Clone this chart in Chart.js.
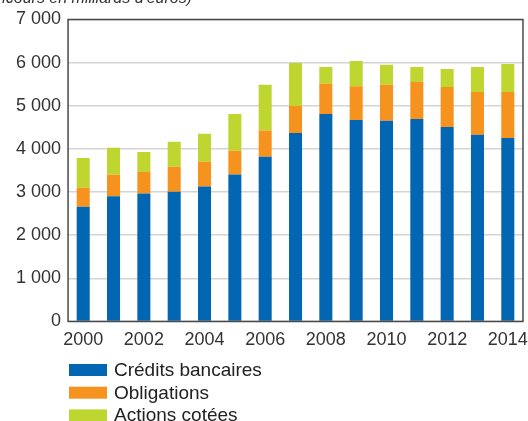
<!DOCTYPE html>
<html>
<head>
<meta charset="utf-8">
<script src="https://cdn.jsdelivr.net/npm/chart.js@4"></script>
<style>
  html, body { margin: 0; padding: 0; background: #fff; }
  #wrap { position: relative; width: 528px; height: 421px; }
</style>
</head>
<body>
<div id="wrap"><canvas id="chart"></canvas></div>
<script>
const years = ['2000', '2001', '2002', '2003', '2004', '2005', '2006', '2007',
  '2008', '2009', '2010', '2011', '2012', '2013', '2014'];
const credits = [2660, 2900, 2965, 3005, 3125, 3405, 3815, 4370, 4810, 4670, 4650, 4695, 4510, 4325, 4255];
const obligations = [440, 500, 500, 580, 575, 550, 610, 625, 705, 785, 835, 855, 925, 995, 1065];
const actions = [690, 625, 465, 580, 650, 855, 1060, 995, 385, 580, 465, 350, 415, 580, 650];
const yTicks = [0, 1000, 2000, 3000, 4000, 5000, 6000, 7000];

const FONT = 'Liberation Sans, Arial, Helvetica, sans-serif';

// frame around the plot area, unit line on top, legend stacked below
const extras = {
  id: 'extras',
  afterDraw(chart) {
    const { ctx, chartArea: a } = chart;
    ctx.save();
    ctx.strokeStyle = '#4a4a4a';
    ctx.lineWidth = 1.5;
    ctx.strokeRect(a.left, a.top, a.right - a.left, a.bottom - a.top);

    ctx.font = 'italic 16px ' + FONT;
    ctx.fillStyle = '#333';
    ctx.textAlign = 'right';
    ctx.textBaseline = 'alphabetic';
    ctx.fillText("(encours en milliards d'euros)", 192, 3);

    ctx.textAlign = 'left';
    ctx.font = '19px ' + FONT;
    chart.data.datasets.forEach((ds, i) => {
      const y = 376 + i * 22.7;
      ctx.fillStyle = ds.backgroundColor;
      ctx.fillRect(69, y - 12, 38, 12);
      ctx.fillStyle = '#222';
      ctx.fillText(ds.label, 114, y);
    });
    ctx.restore();
  }
};

new Chart(document.getElementById('chart'), {
  type: 'bar',
  data: {
    labels: years,
    datasets: [
      { label: 'Crédits bancaires', data: credits, backgroundColor: '#0366b3' },
      { label: 'Obligations', data: obligations, backgroundColor: '#f6921e' },
      { label: 'Actions cotées', data: actions, backgroundColor: '#bed62f' }
    ]
  },
  options: {
    responsive: true,
    maintainAspectRatio: false,
    animation: false,
    layout: { padding: { left: 9, right: 5, top: 19.5, bottom: 70 } },
    datasets: { bar: { barPercentage: 0.43, categoryPercentage: 1 } },
    plugins: {
      legend: { display: false },
      tooltip: { enabled: false }
    },
    scales: {
      x: {
        stacked: true,
        grid: { display: false },
        border: { display: false },
        ticks: {
          color: '#333',
          font: { family: FONT, size: 18 },
          padding: 0,
          maxRotation: 0,
          autoSkip: false,
          callback: (v, i) => (i % 2 === 0 ? years[i] : '')
        }
      },
      y: {
        stacked: true,
        min: 0,
        max: 7000,
        afterBuildTicks: axis => { axis.ticks = yTicks.map(v => ({ value: v })); },
        grid: { color: '#d4d4d4', lineWidth: 1.5, drawTicks: false },
        border: { display: false },
        ticks: {
          color: '#333',
          font: { family: FONT, size: 18 },
          padding: 7,
          callback: v => v.toLocaleString('fr-FR').replace(/\s/g, ' ')
        }
      }
    }
  },
  plugins: [extras]
});
</script>
</body>
</html>
